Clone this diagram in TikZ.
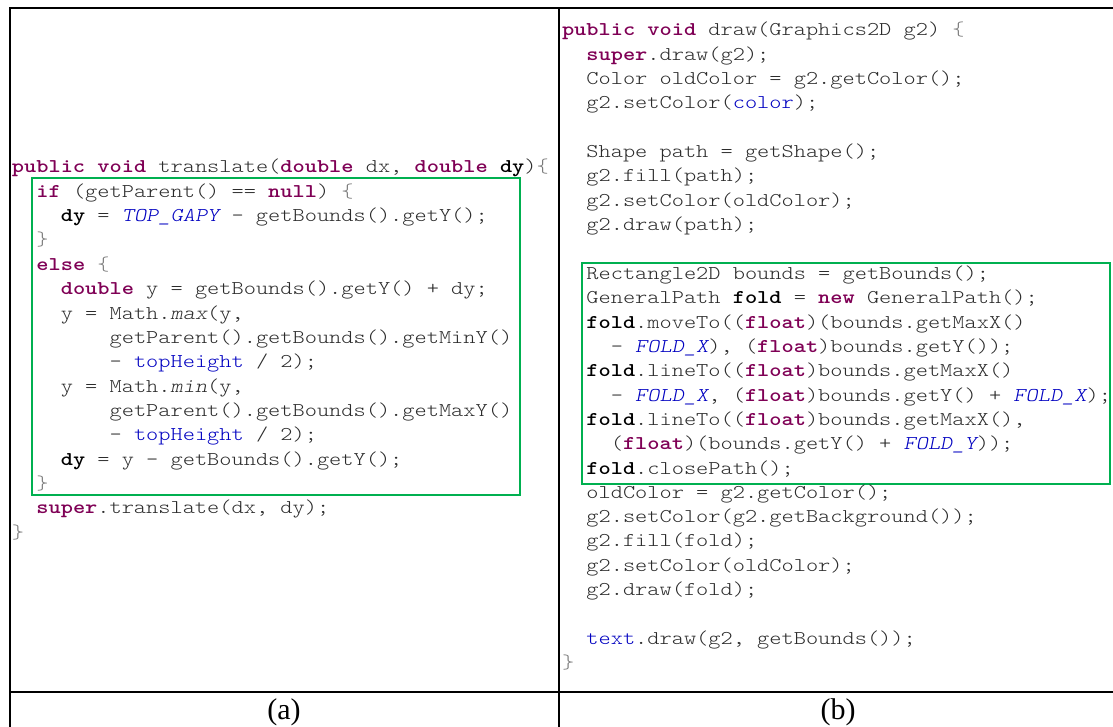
\documentclass[tikz,border=0pt]{standalone}
\usepackage{fontspec}
\usepackage{xcolor}
\newfontfamily\codefont{lmmonolt10-regular.otf}[
  FakeStretch=1.1917,
  BoldFont=lmmonolt10-bold.otf,
  ItalicFont=lmmonolt10-oblique.otf,
  BoldItalicFont=lmmonolt10-boldoblique.otf]
\newfontfamily\capfont{Liberation Serif}

\definecolor{kwc}{HTML}{7F0055}
\definecolor{fldc}{HTML}{0000C0}
\definecolor{codec}{HTML}{2B2B2B}
\definecolor{brcc}{HTML}{7A7A7A}
\definecolor{boxc}{HTML}{00B050}

% Java syntax colouring
\newcommand\jkw[1]{{\bfseries\color{kwc}#1}}
\newcommand\jfld[1]{{\color{fldc}#1}}
\newcommand\jcst[1]{{\itshape\color{fldc}#1}}
\newcommand\jvar[1]{{\bfseries\color{black}#1}}
\newcommand\jmeth[1]{{\itshape #1}}
\newcommand\jbr[1]{{\color{brcc}#1}}

\tikzset{
  codeline/.style={anchor=base west, inner sep=0pt, outer sep=0pt, text=codec,
    font=\codefont\fontsize{19.5}{24}\selectfont\frenchspacing},
  grid/.style={line width=2pt, black},
  hilite/.style={line width=2pt, boxc},
  caption/.style={anchor=base, inner sep=0pt, font=\capfont\fontsize{30}{34}\selectfont}
}

\begin{document}
\begin{tikzpicture}[x=1pt, y=-1pt]
\useasboundingbox (0,0) rectangle (1113,727);

% table rules
\draw[grid] (9,8.5) -- (1113,8.5);
\draw[grid] (10,7.5) -- (10,727);
\draw[grid] (558.5,7.5) -- (558.5,727);
\draw[grid] (9,691.5) -- (1113,691.5);

% highlighted blocks
\draw[hilite] (32,178) rectangle (520,495);
\draw[hilite] (582,263) rectangle (1110,484);

% (a) translate
\node[codeline] (l1)  at (12,173.0) {\jkw{public} \jkw{void} translate(\jkw{double} dx, \jkw{double} \jvar{dy})\jbr{\{}};
\node[codeline] (l2)  at (36.4,197.3) {\jkw{if} (getParent() == \jkw{null}) \jbr{\{}};
\node[codeline] (l3)  at (60.8,221.7) {\jvar{dy} = \jcst{TOP\_GAPY} - getBounds().getY();};
\node[codeline] (l4)  at (36.4,246.0) {\jbr{\}}};
\node[codeline] (l5)  at (36.4,270.3) {\jkw{else} \jbr{\{}};
\node[codeline] (l6)  at (60.8,294.7) {\jkw{double} y = getBounds().getY() + dy;};
\node[codeline] (l7)  at (60.8,319.0) {y = Math.\jmeth{max}(y,};
\node[codeline] (l8)  at (109.6,343.3) {getParent().getBounds().getMinY()};
\node[codeline] (l9)  at (109.6,367.6) {- \jfld{topHeight} / 2);};
\node[codeline] (l10) at (60.8,392.0) {y = Math.\jmeth{min}(y,};
\node[codeline] (l11) at (109.6,416.3) {getParent().getBounds().getMaxY()};
\node[codeline] (l12) at (109.6,440.6) {- \jfld{topHeight} / 2);};
\node[codeline] (l13) at (60.8,465.0) {\jvar{dy} = y - getBounds().getY();};
\node[codeline] (l14) at (36.4,489.3) {\jbr{\}}};
\node[codeline] (l15) at (36.4,513.6) {\jkw{super}.translate(dx, dy);};
\node[codeline] (l16) at (12,538.0) {\jbr{\}}};

% (b) draw
\node[codeline] (r1)  at (562,36.0) {\jkw{public} \jkw{void} draw(Graphics2D g2) \jbr{\{}};
\node[codeline] (r2)  at (586.4,60.3) {\jkw{super}.draw(g2);};
\node[codeline] (r3)  at (586.4,84.7) {Color oldColor = g2.getColor();};
\node[codeline] (r4)  at (586.4,109.0) {g2.setColor(\jfld{color});};
\node[codeline] (r6)  at (586.4,157.7) {Shape path = getShape();};
\node[codeline] (r7)  at (586.4,182.0) {g2.fill(path);};
\node[codeline] (r8)  at (586.4,206.3) {g2.setColor(oldColor);};
\node[codeline] (r9)  at (586.4,230.6) {g2.draw(path);};
\node[codeline] (r11) at (586.4,279.6) {Rectangle2D bounds = getBounds();};
\node[codeline] (r12) at (586.4,303.9) {GeneralPath \jvar{fold} = \jkw{new} GeneralPath();};
\node[codeline] (r13) at (586.4,328.2) {\jvar{fold}.moveTo((\jkw{float})(bounds.getMaxX()};
\node[codeline] (r14) at (610.8,352.5) {- \jcst{FOLD\_X}), (\jkw{float})bounds.getY());};
\node[codeline] (r15) at (586.4,376.8) {\jvar{fold}.lineTo((\jkw{float})bounds.getMaxX()};
\node[codeline] (r16) at (610.8,401.1) {- \jcst{FOLD\_X}, (\jkw{float})bounds.getY() + \jcst{FOLD\_X});};
\node[codeline] (r17) at (586.4,425.4) {\jvar{fold}.lineTo((\jkw{float})bounds.getMaxX(),};
\node[codeline] (r18) at (610.8,449.7) {(\jkw{float})(bounds.getY() + \jcst{FOLD\_Y}));};
\node[codeline] (r19) at (586.4,474.0) {\jvar{fold}.closePath();};
\node[codeline] (r20) at (586.4,498.3) {oldColor = g2.getColor();};
\node[codeline] (r21) at (586.4,522.6) {g2.setColor(g2.getBackground());};
\node[codeline] (r22) at (586.4,546.9) {g2.fill(fold);};
\node[codeline] (r23) at (586.4,571.2) {g2.setColor(oldColor);};
\node[codeline] (r24) at (586.4,595.5) {g2.draw(fold);};
\node[codeline] (r26) at (586.4,644.1) {\jfld{text}.draw(g2, getBounds());};
\node[codeline] (r27) at (562,668.4) {\jbr{\}}};

% captions
\node[caption] (capa) at (284,719) {(a)};
\node[caption] (capb) at (838,719) {(b)};
\end{tikzpicture}
\end{document}
